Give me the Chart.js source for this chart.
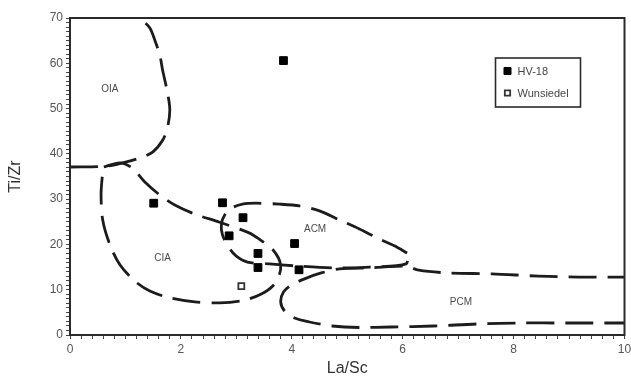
<!DOCTYPE html>
<html>
<head>
<meta charset="utf-8">
<script src="https://cdn.jsdelivr.net/npm/chart.js@4/dist/chart.umd.min.js"></script>
<style>
  html, body { margin: 0; padding: 0; background: #fff; }
</style>
</head>
<body>
<canvas id="c" width="631" height="378"></canvas>
<script>
// Samples
const hv18La   = [3.85, 1.51, 2.75, 3.12, 2.87, 3.39, 3.39, 4.05, 4.13];
const hv18TiZr = [60.6, 29.1, 29.2, 25.9, 21.9, 18.0, 14.9, 20.2, 14.4];
const wunLa    = [3.09];
const wunTiZr  = [10.8];

// Field boundaries (Bhatia & Crook style La/Sc vs Ti/Zr)
const oiaLa   = [0, 0.68, 0.95, 1.26, 1.49, 1.67, 1.76, 1.80, 1.76, 1.67, 1.62, 1.53, 1.44, 1.26, 1.15];
const oiaTiZr = [37.1, 37.3, 38.0, 39.1, 40.4, 43.0, 45.9, 49.7, 53.4, 58.5, 61.8, 65.1, 67.8, 70.0, 71.5];

const ciaLa   = [0.61, 0.90, 1.12, 1.35, 1.62, 1.89, 2.25, 2.70, 3.24, 3.42, 3.63, 3.76, 3.80, 3.78, 3.67, 3.45, 3.15, 2.70, 2.25, 1.80, 1.44, 1.17, 0.90, 0.72, 0.59, 0.56, 0.58, 0.61];
const ciaTiZr = [37.1, 38.0, 36.9, 33.8, 30.9, 28.7, 26.7, 24.9, 22.5, 21.1, 19.2, 17.0, 15.2, 13.5, 11.0, 9.05, 7.7, 7.1, 7.3, 8.2, 9.7, 11.9, 15.5, 19.9, 25.4, 30.9, 34.7, 37.1];

const acmLa   = [6.08, 5.85, 5.58, 5.22, 4.86, 4.50, 4.14, 3.78, 3.36, 3.11, 2.91, 2.79, 2.73, 2.75, 2.86, 3.00, 3.20, 3.60, 4.14, 4.86, 5.40, 6.06, 6.08];
const acmTiZr = [18.1, 19.7, 21.2, 23.4, 25.4, 27.4, 28.5, 28.9, 29.1, 28.9, 28.0, 26.5, 24.5, 22.1, 19.4, 17.4, 16.1, 15.7, 15.2, 14.8, 15.0, 15.7, 18.1];

const pcmLa   = [10.2, 9.17, 8.45, 7.61, 6.83, 6.29, 6.06, 5.40, 4.86, 4.53, 4.23, 3.99, 3.85, 3.80, 3.87, 4.05, 4.32, 4.73, 5.22, 5.79, 6.56, 7.34, 8.15, 8.94, 10.2];
const pcmTiZr = [12.8, 12.8, 13.0, 13.5, 13.7, 14.3, 15.2, 14.8, 14.6, 13.7, 12.4, 11.0, 9.5, 7.3, 5.3, 3.75, 2.87, 1.99, 1.66, 1.77, 1.99, 2.43, 2.65, 2.65, 2.65];

// Field names and where they are written
const fieldNames = ['OIA', 'CIA', 'ACM', 'PCM'];
const fieldLa    = [0.72, 1.67, 4.42, 7.05];
const fieldTiZr  = [54.3, 17.0, 23.4, 7.3];

// Axis tick labels
const xTickLabels = [0, 2, 4, 6, 8, 10];
const yTickLabels = [0, 10, 20, 30, 40, 50, 60, 70];

const pts = (xs, ys) => xs.map((x, i) => ({ x: x, y: ys[i] }));

const FONT = "'Liberation Sans', Arial, sans-serif";
const INK = '#1c1c1c';

function boundary(label, xs, ys) {
  return {
    label: label,
    data: pts(xs, ys),
    showLine: true,
    tension: 0.3,
    borderColor: INK,
    borderWidth: 2.8,
    borderDash: [28, 11],
    borderCapStyle: 'butt',
    pointRadius: 0,
    pointHoverRadius: 0,
    fill: false,
    isBoundary: true
  };
}

const fieldLabels = {
  id: 'fieldLabels',
  afterDatasetsDraw(chart) {
    const { ctx, scales: { x, y } } = chart;
    ctx.save();
    ctx.font = '10px ' + FONT;
    ctx.fillStyle = '#4a4a4a';
    ctx.textAlign = 'center';
    ctx.textBaseline = 'middle';
    fieldNames.forEach((n, i) => {
      ctx.fillText(n, x.getPixelForValue(fieldLa[i]), y.getPixelForValue(fieldTiZr[i]));
    });
    ctx.restore();
  }
};

const frame = {
  id: 'frame',
  afterDraw(chart) {
    const { ctx, chartArea: a } = chart;
    ctx.save();
    ctx.strokeStyle = '#2a2a2a';
    ctx.lineWidth = 2;
    ctx.strokeRect(a.left, a.top, a.right - a.left, a.bottom - a.top);

    // sample key
    const bx = a.right - 129, by = a.top + 40, bw = 85, bh = 49;
    ctx.fillStyle = '#fff';
    ctx.fillRect(bx, by, bw, bh);
    ctx.lineWidth = 1.6;
    ctx.strokeRect(bx, by, bw, bh);
    const samples = chart.data.datasets.filter(d => !d.isBoundary);
    samples.forEach((d, i) => {
      const cy = by + 13 + i * 22;
      ctx.fillStyle = d.backgroundColor;
      ctx.strokeStyle = d.borderColor;
      ctx.lineWidth = d.borderWidth;
      Chart.helpers.drawPoint(ctx, { pointStyle: 'rect', radius: d.pointRadius * 0.9, borderWidth: d.borderWidth }, bx + 12, cy);
      ctx.fillStyle = '#444';
      ctx.font = '11px ' + FONT;
      ctx.textAlign = 'left';
      ctx.textBaseline = 'middle';
      ctx.fillText(d.label, bx + 22, cy + 0.5);
    });
    ctx.restore();
  }
};

new Chart(document.getElementById('c'), {
  type: 'scatter',
  data: {
    datasets: [
      {
        label: 'HV-18',
        data: pts(hv18La, hv18TiZr),
        pointStyle: 'rect',
        pointRadius: 5.5,
        backgroundColor: '#000',
        borderColor: '#000',
        borderWidth: 1
      },
      {
        label: 'Wunsiedel',
        data: pts(wunLa, wunTiZr),
        pointStyle: 'rect',
        pointRadius: 4.2,
        backgroundColor: '#fff',
        borderColor: '#333',
        borderWidth: 1.8
      },
      boundary('OIA', oiaLa, oiaTiZr),
      boundary('CIA', ciaLa, ciaTiZr),
      boundary('ACM', acmLa, acmTiZr),
      boundary('PCM', pcmLa, pcmTiZr)
    ]
  },
  options: {
    responsive: false,
    animation: false,
    devicePixelRatio: 1,
    layout: { padding: { left: 0, right: 5, top: 18, bottom: 0 } },
    plugins: {
      legend: { display: false },
      tooltip: { enabled: false }
    },
    scales: {
      x: {
        type: 'linear',
        min: 0, max: 10,
        afterFit(s) { s.height = 43; s.paddingLeft = 0; s.paddingRight = 0; },
        ticks: {
          stepSize: 0.2,
          autoSkip: false,
          maxRotation: 0,
          padding: 3,
          color: '#555',
          font: { family: FONT, size: 12 },
          callback: v => xTickLabels.find(t => Math.abs(t - v) < 1e-6) !== undefined ? String(Math.round(v)) : ''
        },
        grid: { drawOnChartArea: false, drawTicks: true, tickLength: 4, color: '#444' },
        border: { display: true, color: '#222', width: 2 },
        title: { display: true, text: 'La/Sc', color: '#333', font: { family: FONT, size: 16 }, padding: { top: 0, bottom: 0 } }
      },
      y: {
        type: 'linear',
        min: 0, max: 70,
        afterFit(s) { s.width = 70; s.paddingTop = 0; s.paddingBottom = 0; },
        ticks: {
          stepSize: 1,
          autoSkip: false,
          padding: 3,
          color: '#555',
          font: { family: FONT, size: 12 },
          callback: v => yTickLabels.includes(Math.round(v)) && Math.abs(v - Math.round(v)) < 1e-6 ? String(Math.round(v)) : ''
        },
        grid: { drawOnChartArea: false, drawTicks: true, tickLength: 4, color: '#444' },
        border: { display: true, color: '#222', width: 2 },
        title: { display: true, text: 'Ti/Zr', color: '#333', font: { family: FONT, size: 16 }, padding: { top: 6, bottom: 0 } }
      }
    }
  },
  plugins: [fieldLabels, frame]
});
</script>
</body>
</html>
